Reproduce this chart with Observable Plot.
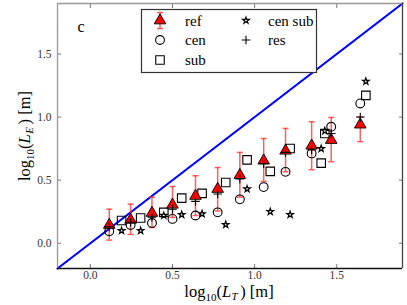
<!DOCTYPE html>
<html>
<head>
<meta charset="utf-8">
<script src="https://cdn.jsdelivr.net/npm/d3@7"></script>
<script src="https://cdn.jsdelivr.net/npm/@observablehq/plot@0.6"></script>
<style>
  html, body { margin: 0; padding: 0; background: #fff; }
  #chart svg { display: block; }
</style>
</head>
<body>
<div id="chart"></div>
<script>
// ---- data ----
const xDomain = [-0.2, 1.9];
const yDomain = [-0.2, 1.9];
const tickValues = [0.0, 0.5, 1.0, 1.5];
const diagonal = [-0.2, 1.9];

// ref (red triangles with error bars) and cen / res share these x
const refX  = [0.115, 0.245, 0.375, 0.50, 0.64, 0.775, 0.91, 1.055, 1.188, 1.347, 1.466, 1.643];
const refY  = [0.145, 0.185, 0.24, 0.305, 0.375, 0.43, 0.54, 0.655, 0.733, 0.773, 0.818, 0.94];
const refLo = [0.025, 0.07, 0.125, 0.205, 0.22, 0.255, 0.365, 0.49, 0.567, 0.583, 0.646, 0.805];
const refHi = [0.27, 0.31, 0.365, 0.45, 0.535, 0.60, 0.72, 0.83, 0.91, 0.963, 0.997, 1.0];
const cenY  = [0.095, 0.145, 0.16, 0.193, 0.22, 0.245, 0.348, 0.445, 0.566, 0.712, 0.923, 1.108];
const resY  = [0.13, 0.166, 0.206, 0.27, 0.332, 0.39, 0.51, 0.63, 0.72, 0.739, 0.87, 1.0];

// sub (squares) and cen sub (stars) share these x
const subX  = [0.19, 0.306, 0.447, 0.556, 0.68, 0.824, 0.954, 1.095, 1.216, 1.405, 1.427, 1.677];
const subY  = [0.18, 0.2, 0.245, 0.358, 0.395, 0.482, 0.661, 0.57, 0.751, 0.635, 0.87, 1.172];
const starY = [0.10, 0.10, 0.22, 0.227, 0.233, 0.148, 0.43, 0.25, 0.227, 0.75, 0.89, 1.283];

const legendLabels = ["ref", "cen", "sub", "cen sub", "res"];

// ---- tables ----
const refRows = refX.map((x, i) => ({x, y: refY[i], lo: refLo[i], hi: refHi[i], cen: cenY[i], res: resY[i]}));
const subRows = subX.map((x, i) => ({x, sub: subY[i], star: starY[i]}));

const capSymbol = { draw(ctx, size) { const w = 3; ctx.moveTo(-w, 0); ctx.lineTo(w, 0); } };
const errColor = "#ff2a2a";
const plusR = 2.9;
const starR = 2.05;
const triR = 4.3;

const plot = Plot.plot({
  width: 407,
  height: 305,
  marginLeft: 57,
  marginRight: 5,
  marginTop: 3,
  marginBottom: 37,
  x: {domain: xDomain},
  y: {domain: yDomain},
  style: {fontFamily: "'Liberation Serif', serif", fontSize: "11.5px", color: "#333", background: "#fff"},
  marks: [
    Plot.line(diagonal.map(d => [d, d]), {x: d => d[0], y: d => d[1], stroke: "#0000ff", strokeWidth: 2.2}),
    // error bars
    Plot.ruleX(refRows, {x: "x", y1: "lo", y2: "hi", stroke: errColor, strokeOpacity: 0.75, strokeWidth: 1.5}),
    Plot.dot(refRows, {x: "x", y: "lo", symbol: capSymbol, stroke: errColor, strokeOpacity: 0.75, strokeWidth: 1.5, r: 3}),
    Plot.dot(refRows, {x: "x", y: "hi", symbol: capSymbol, stroke: errColor, strokeOpacity: 0.75, strokeWidth: 1.5, r: 3}),
    // cen circles
    Plot.dot(refRows, {x: "x", y: "cen", symbol: "circle", r: 4.4, fill: "none", stroke: "#000", strokeWidth: 1.1}),
    // sub squares
    Plot.dot(subRows, {x: "x", y: "sub", symbol: "square", r: 4.8, fill: "none", stroke: "#000", strokeWidth: 1.1}),
    // cen sub stars
    Plot.dot(subRows, {x: "x", y: "star", symbol: "star", r: starR, fill: "none", stroke: "#000", strokeWidth: 1.2}),
    // ref triangles
    Plot.dot(refRows, {x: "x", y: "y", symbol: "triangle", r: triR, fill: "#ff0000", stroke: "#000", strokeWidth: 0.9}),
    // res plus
    Plot.dot(refRows, {x: "x", y: "res", symbol: "plus", r: plusR, stroke: "#000", strokeWidth: 1.1}),
    // axes with inward ticks
    Plot.axisX({ticks: tickValues, tickFormat: d3.format(".1f"), tickSize: -4, tickPadding: 6.5, label: null, stroke: "#777"}),
    Plot.axisY({ticks: tickValues, tickFormat: d3.format(".1f"), tickSize: -4, tickPadding: 10, label: null, stroke: "#777"}),
    Plot.axisX({anchor: "top", ticks: tickValues, tickFormat: () => "", tickSize: -4, label: null, stroke: "#777"}),
    Plot.axisY({anchor: "right", ticks: tickValues, tickFormat: () => "", tickSize: -4, label: null, stroke: "#777"}),
    // frame
    Plot.ruleX([xDomain[0]], {stroke: "#999", strokeWidth: 1.3}),
    Plot.ruleY([yDomain[1]], {stroke: "#999", strokeWidth: 1.3}),
    Plot.ruleX([xDomain[1]], {stroke: "#444", strokeWidth: 1.3}),
    Plot.ruleY([yDomain[0]], {stroke: "#111", strokeWidth: 1.3}),
    Plot.text(["c"], {frameAnchor: "top-left", dx: 20, dy: 17, text: d => d, fontSize: 16, fill: "#000"})
  ]
});

document.getElementById("chart").appendChild(plot);

// ---- axis labels and legend ----
const svg = d3.select(plot);
const font = "'Liberation Serif', serif";

function mathLabel(g, sub) {
  g.append("tspan").text("log");
  g.append("tspan").attr("font-size", "11px").attr("dy", 4).text("10");
  g.append("tspan").attr("dy", -4).text("(");
  g.append("tspan").attr("font-style", "italic").text("L");
  g.append("tspan").attr("font-style", "italic").attr("font-size", "11px").attr("dy", 3).attr("dx", 0.5).text(sub);
  g.append("tspan").attr("dy", -3).attr("dx", 2.5).text(") [m]");
}

const xl = svg.append("text")
  .attr("x", 229).attr("y", 297)
  .attr("text-anchor", "middle")
  .attr("font-family", font).attr("font-size", 16.5).attr("fill", "#000");
mathLabel(xl, "T");

const yl = svg.append("text")
  .attr("transform", "translate(30,136) rotate(-90)")
  .attr("text-anchor", "middle")
  .attr("font-family", font).attr("font-size", 16.5).attr("fill", "#000");
mathLabel(yl, "E");

const lg = svg.append("g").attr("font-family", font).attr("font-size", 15).attr("fill", "#000").attr("text-anchor", "start");
lg.append("rect").attr("x", 141.5).attr("y", 9.5).attr("width", 175).attr("height", 63)
  .attr("fill", "#fff").attr("stroke", "#333").attr("stroke-width", 1.2);

const sym = (type, size) => d3.symbol(type, size)();
// ref entry
const r1 = lg.append("g").attr("transform", "translate(160,20.5)");
r1.append("line").attr("x1", 0).attr("x2", 0).attr("y1", -8).attr("y2", 8).attr("stroke", errColor).attr("stroke-opacity", 0.75).attr("stroke-width", 1.5);
r1.append("line").attr("x1", -3).attr("x2", 3).attr("y1", -8).attr("y2", -8).attr("stroke", errColor).attr("stroke-opacity", 0.75).attr("stroke-width", 1.5);
r1.append("line").attr("x1", -3).attr("x2", 3).attr("y1", 8).attr("y2", 8).attr("stroke", errColor).attr("stroke-opacity", 0.75).attr("stroke-width", 1.5);
r1.append("path").attr("d", sym(d3.symbolTriangle, Math.PI * triR * triR)).attr("fill", "#ff0000").attr("stroke", "#000").attr("stroke-width", 0.9);
// cen
lg.append("path").attr("transform", "translate(160,40)").attr("d", sym(d3.symbolCircle, Math.PI * 4.4 * 4.4)).attr("fill", "none").attr("stroke", "#000").attr("stroke-width", 1.1);
// sub
lg.append("path").attr("transform", "translate(160,60)").attr("d", sym(d3.symbolSquare, Math.PI * 4.8 * 4.8)).attr("fill", "none").attr("stroke", "#000").attr("stroke-width", 1.1);
// cen sub
lg.append("path").attr("transform", "translate(246,20.5)").attr("d", sym(d3.symbolStar, Math.PI * starR * starR)).attr("fill", "none").attr("stroke", "#000").attr("stroke-width", 1.2);
// res
lg.append("path").attr("transform", "translate(246,40)").attr("d", sym(d3.symbolPlus, Math.PI * plusR * plusR)).attr("fill", "none").attr("stroke", "#000").attr("stroke-width", 1.1);

const textPos = [[185, 20.5], [185, 40], [185, 60], [268, 20.5], [268, 40]];
legendLabels.forEach((t, i) => {
  lg.append("text").attr("x", textPos[i][0]).attr("y", textPos[i][1]).attr("dy", "0.35em").text(t);
});
</script>
</body>
</html>
